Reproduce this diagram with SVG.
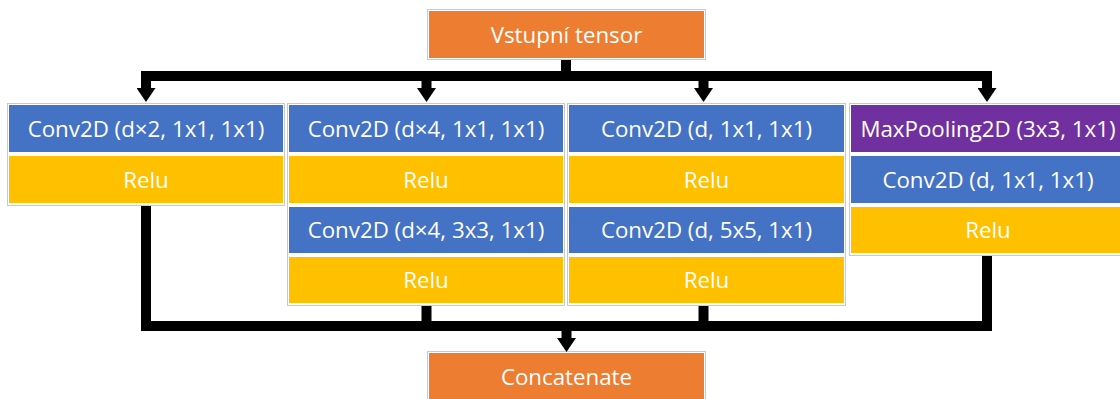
<svg xmlns="http://www.w3.org/2000/svg" width="1120" height="399" viewBox="0 0 1120 399">
  <style>
    .frame { fill: #ffffff; stroke: #c9c9c9; stroke-width: 1; }
    .orange { fill: #ed7d31; }
    .blue { fill: #4472c4; }
    .yellow { fill: #ffc000; }
    .purple { fill: #7030a0; }
    .label { font-family: "Open Sans", "Noto Sans", sans-serif; font-size: 22.3px; fill: #ffffff; text-anchor: middle; }
    .wire { fill: none; stroke: #000000; stroke-width: 10; stroke-linejoin: miter; stroke-linecap: butt; }
  </style>
  <defs>
    <marker id="head" viewBox="0 -9.5 14 19" refX="0" refY="0" markerUnits="userSpaceOnUse" markerWidth="14" markerHeight="19" orient="auto">
      <path d="M0,-9.5 L14,0 L0,9.5 Z" fill="#000000"/>
    </marker>
  </defs>

  <rect width="1120" height="399" fill="#ffffff"/>

  <!-- input -->
  <g id="input">
    <rect class="frame" x="427.5" y="9.5" width="278" height="50"/>
    <rect class="orange" x="429" y="11" width="275" height="47"/>
    <text class="label" x="566.5" y="42.5">Vstupní tensor</text>
  </g>

  <!-- branch 1 -->
  <g id="branch1">
    <rect class="frame" x="7.5" y="103.5" width="277" height="102"/>
    <rect class="blue" x="9" y="105" width="274" height="47"/>
    <text class="label" x="146" y="136.5">Conv2D (d×2, 1x1, 1x1)</text>
    <rect class="yellow" x="9" y="156" width="274" height="47"/>
    <text class="label" x="146" y="187.5">Relu</text>
  </g>

  <!-- branch 2 -->
  <g id="branch2">
    <rect class="frame" x="287.5" y="103.5" width="277" height="202"/>
    <rect class="blue" x="289" y="105" width="274" height="47"/>
    <text class="label" x="426" y="136.5">Conv2D (d×4, 1x1, 1x1)</text>
    <rect class="yellow" x="289" y="156" width="274" height="47"/>
    <text class="label" x="426" y="187.5">Relu</text>
    <rect class="blue" x="289" y="207" width="274" height="46"/>
    <text class="label" x="426" y="238">Conv2D (d×4, 3x3, 1x1)</text>
    <rect class="yellow" x="289" y="257" width="274" height="46"/>
    <text class="label" x="426" y="288">Relu</text>
  </g>

  <!-- branch 3 -->
  <g id="branch3">
    <rect class="frame" x="567.5" y="103.5" width="278" height="202"/>
    <rect class="blue" x="569" y="105" width="275" height="47"/>
    <text class="label" x="706.5" y="136.5">Conv2D (d, 1x1, 1x1)</text>
    <rect class="yellow" x="569" y="156" width="275" height="47"/>
    <text class="label" x="706.5" y="187.5">Relu</text>
    <rect class="blue" x="569" y="207" width="275" height="46"/>
    <text class="label" x="706.5" y="238">Conv2D (d, 5x5, 1x1)</text>
    <rect class="yellow" x="569" y="257" width="275" height="46"/>
    <text class="label" x="706.5" y="288">Relu</text>
  </g>

  <!-- branch 4 -->
  <g id="branch4">
    <rect class="frame" x="849.5" y="103.5" width="278" height="152"/>
    <rect class="purple" x="851" y="105" width="275" height="47"/>
    <text class="label" x="988" y="136.5">MaxPooling2D (3x3, 1x1)</text>
    <rect class="blue" x="851" y="156" width="275" height="47"/>
    <text class="label" x="988" y="187.5">Conv2D (d, 1x1, 1x1)</text>
    <rect class="yellow" x="851" y="207" width="275" height="46"/>
    <text class="label" x="988" y="238">Relu</text>
  </g>

  <!-- output -->
  <g id="concat">
    <rect class="frame" x="427.5" y="351.5" width="278" height="52"/>
    <rect class="orange" x="429" y="353" width="275" height="50"/>
    <text class="label" x="566.5" y="385">Concatenate</text>
  </g>

  <!-- connectors -->
  <g id="connectors">
    <!-- fan-out from the input -->
    <path class="wire" d="M566,60 V76"/>
    <path class="wire" d="M146,88 V76 H987 V88"/>
    <path class="wire" d="M146,80 V88" marker-end="url(#head)"/>
    <path class="wire" d="M426.5,76 V88" marker-end="url(#head)"/>
    <path class="wire" d="M703.5,76 V88" marker-end="url(#head)"/>
    <path class="wire" d="M987,80 V88" marker-end="url(#head)"/>
    <!-- fan-in to the concatenation -->
    <path class="wire" d="M146,206 V326 H987 V256"/>
    <path class="wire" d="M426.5,306 V326"/>
    <path class="wire" d="M703.5,306 V326"/>
    <path class="wire" d="M566.5,321 V338" marker-end="url(#head)"/>
  </g>
</svg>
